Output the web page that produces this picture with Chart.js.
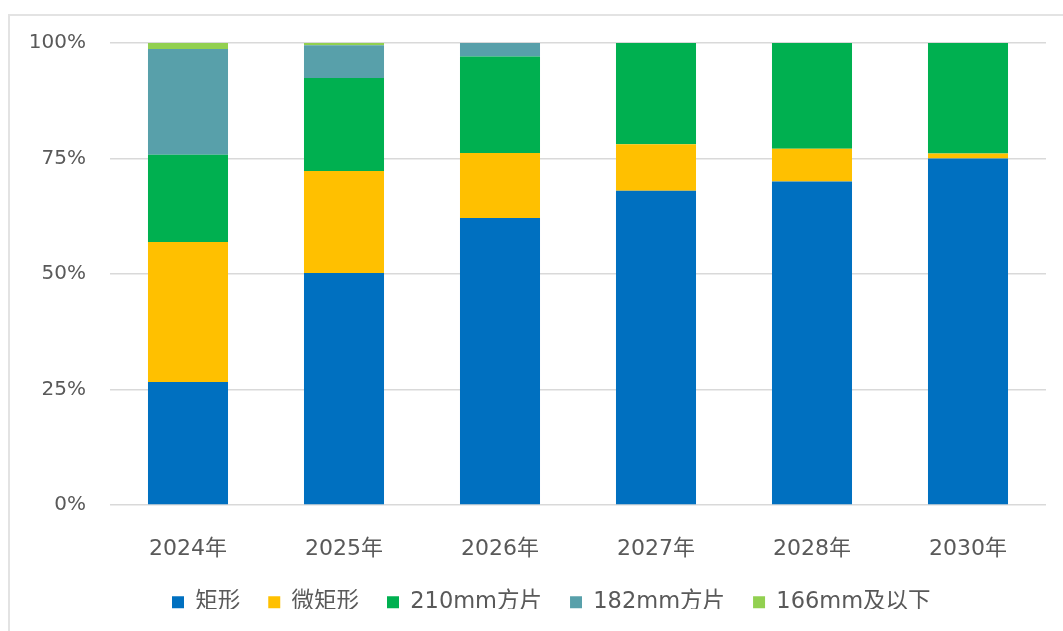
<!DOCTYPE html>
<html>
<head>
<meta charset="utf-8">
<script src="https://cdn.jsdelivr.net/npm/chart.js@4.4.1/dist/chart.umd.min.js"></script>
<style>
  html, body { margin: 0; padding: 0; background: #ffffff; }
  #wrap { position: relative; width: 1063px; height: 631px; overflow: hidden; }
  #frame { position: absolute; left: 8px; top: 14px; width: 1100px; height: 700px; border: 2px solid #e3e3e3; box-sizing: border-box; }
  canvas { position: absolute; left: 0; top: 0; }
</style>
</head>
<body>
<div id="wrap">
  <div id="frame"></div>
  <canvas id="c" width="1063" height="631"></canvas>
</div>
<script>
const categories = ['2024年', '2025年', '2026年', '2027年', '2028年', '2030年'];
const seriesNames = ['矩形', '微矩形', '210mm方片', '182mm方片', '166mm及以下'];
const rectangular = [26.6, 50.2, 62.1, 68, 70, 75];
const microRect = [30.3, 22.1, 14.1, 10.1, 7.1, 1.1];
const square210 = [18.9, 20.1, 20.9, 21.9, 22.9, 23.9];
const square182 = [22.9, 7.1, 2.9, 0, 0, 0];
const below166 = [1.3, 0.5, 0, 0, 0, 0];
const yTicks = [0, 25, 50, 75, 100];

const colors = ['#0070C0', '#FFC000', '#00B050', '#58A0AA', '#92D050'];
const values = [rectangular, microRect, square210, square182, below166];
const FONT = '"DejaVu Sans", "Noto Sans CJK SC", sans-serif';
const TXT = '#595959';

const legendPlacer = {
  id: 'legendPlacer',
  beforeInit(chart) {
    const lg = chart.legend;
    if (!lg) return;
    const origFit = lg.fit.bind(lg);
    lg.fit = function () { origFit(); this.height = 46; };
  },
  afterLayout(chart) {
    const lg = chart.legend;
    if (!lg) return;
    const h = lg.height;
    lg.left = 144;
    lg.top = 563;
    lg.bottom = lg.top + h;
  }
};

new Chart(document.getElementById('c'), {
  type: 'bar',
  data: {
    labels: categories,
    datasets: values.map((v, i) => ({
      label: seriesNames[i],
      data: v,
      backgroundColor: colors[i],
      borderWidth: 0,
      barPercentage: 0.513,
      categoryPercentage: 1.0
    }))
  },
  options: {
    responsive: false,
    animation: false,
    devicePixelRatio: 1,
    layout: { padding: { top: 43, right: 17, bottom: 0, left: 0 } },
    plugins: {
      legend: {
        position: 'bottom',
        align: 'start',
        labels: {
          boxWidth: 12,
          boxHeight: 12,
          padding: 28,
          color: TXT,
          font: { family: FONT, size: 22.5 }
        }
      },
      tooltip: { enabled: false }
    },
    scales: {
      x: {
        stacked: true,
        grid: { display: false, drawTicks: false },
        border: { display: false },
        ticks: { color: TXT, font: { family: FONT, size: 22 }, padding: 31 },
        afterFit(s) { s.height = 80; }
      },
      y: {
        stacked: true,
        min: 0,
        max: 100,
        afterBuildTicks(s) { s.ticks = yTicks.map(v => ({ value: v })); },
        grid: { color: '#d9d9d9', lineWidth: 1.5, drawTicks: false },
        border: { display: false },
        ticks: {
          color: TXT,
          font: { family: FONT, size: 20 },
          padding: 24,
          callback: v => v + '%'
        },
        afterFit(s) { s.width = 110; }
      }
    }
  },
  plugins: [legendPlacer]
});
</script>
</body>
</html>
